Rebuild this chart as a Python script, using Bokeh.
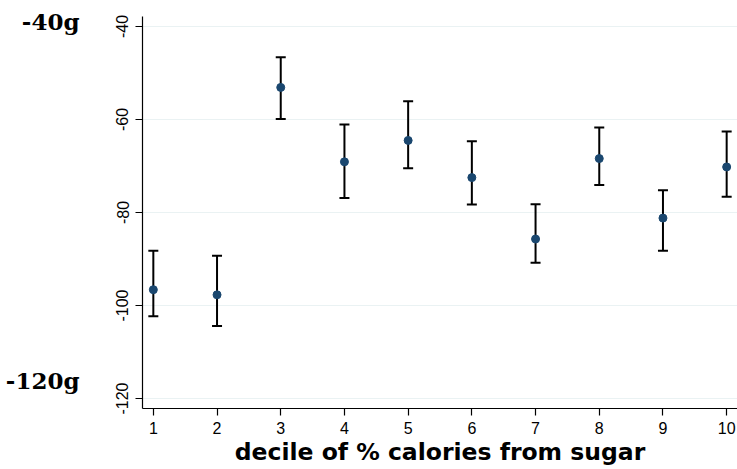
from bokeh.plotting import figure
from bokeh.models import ColumnDataSource, Whisker, TeeHead, Range1d, FixedTicker, LinearAxis
from bokeh.embed import file_html
from bokeh.resources import INLINE

deciles = [1, 2, 3, 4, 5, 6, 7, 8, 9, 10]
estimate = [-96.6, -97.7, -53.1, -69.1, -64.5, -72.5, -85.7, -68.4, -81.2, -70.2]
ci_upper = [-88.2, -89.3, -46.6, -61.1, -56.1, -64.7, -78.2, -61.7, -75.2, -62.6]
ci_lower = [-102.3, -104.4, -59.9, -76.9, -70.5, -78.3, -90.8, -74.1, -88.2, -76.6]
y_ticks = [-120, -100, -80, -60, -40]
x_title = "decile of % calories from sugar"
side_labels = ["-40g", "-120g"]
side_label_at = [-39.0, -116.1]

src = ColumnDataSource(dict(x=deciles, y=estimate, upper=ci_upper, lower=ci_lower))

p = figure(width=737, height=469, output_backend="svg", toolbar_location=None,
           x_range=Range1d(0.83, 10.17), y_range=Range1d(-122.15, -37.85),
           min_border_left=142, min_border_right=0, min_border_top=16, min_border_bottom=61)
p.outline_line_color = None
p.background_fill_color = "white"
p.border_fill_color = "white"

p.xgrid.grid_line_color = None
p.ygrid.grid_line_color = "#eaf2f3"
p.ygrid.grid_line_width = 1.2

p.yaxis.ticker = FixedTicker(ticks=y_ticks)
p.yaxis.major_label_overrides = {t: str(t) for t in y_ticks}
p.xaxis.ticker = FixedTicker(ticks=deciles)
p.yaxis.major_label_orientation = "vertical"
for ax in (p.xaxis[0], p.yaxis[0]):
    ax.axis_line_color = "black"
    ax.axis_line_width = 1.2
    ax.major_tick_line_color = "black"
    ax.major_tick_line_width = 1.2
    ax.major_tick_out = 7
    ax.major_tick_in = 0
    ax.minor_tick_line_color = None
    ax.major_label_text_font = "Liberation Sans"
    ax.major_label_text_font_size = "16px"
    ax.major_label_text_color = "black"
p.yaxis.major_label_standoff = 7
p.xaxis.major_label_standoff = 6

p.xaxis.axis_label = x_title
p.xaxis.axis_label_text_font = "DejaVu Sans"
p.xaxis.axis_label_text_font_style = "bold"
p.xaxis.axis_label_text_font_size = "23.5px"
p.xaxis.axis_label_text_color = "black"
p.xaxis.axis_label_standoff = 1

# outer left axis carrying the "-40g" / "-120g" annotations
side_axis = LinearAxis(ticker=FixedTicker(ticks=side_label_at),
                       major_label_overrides={v: t for v, t in zip(side_label_at, side_labels)})
side_axis.axis_line_color = None
side_axis.major_tick_line_color = None
side_axis.minor_tick_line_color = None
side_axis.major_tick_out = 0
side_axis.major_tick_in = 0
side_axis.major_label_standoff = 34
side_axis.major_label_text_font = "DejaVu Serif"
side_axis.major_label_text_font_style = "bold"
side_axis.major_label_text_font_size = "23px"
side_axis.major_label_text_color = "black"
p.add_layout(side_axis, "left")

w = Whisker(source=src, base="x", upper="upper", lower="lower",
            line_color="black", line_width=2,
            upper_head=TeeHead(size=10, line_color="black", line_width=2),
            lower_head=TeeHead(size=10, line_color="black", line_width=2))
p.add_layout(w)

p.scatter("x", "y", source=src, size=8, fill_color="#1a476f", line_color="#1a476f")

open("out.html", "w").write(file_html(p, INLINE))
